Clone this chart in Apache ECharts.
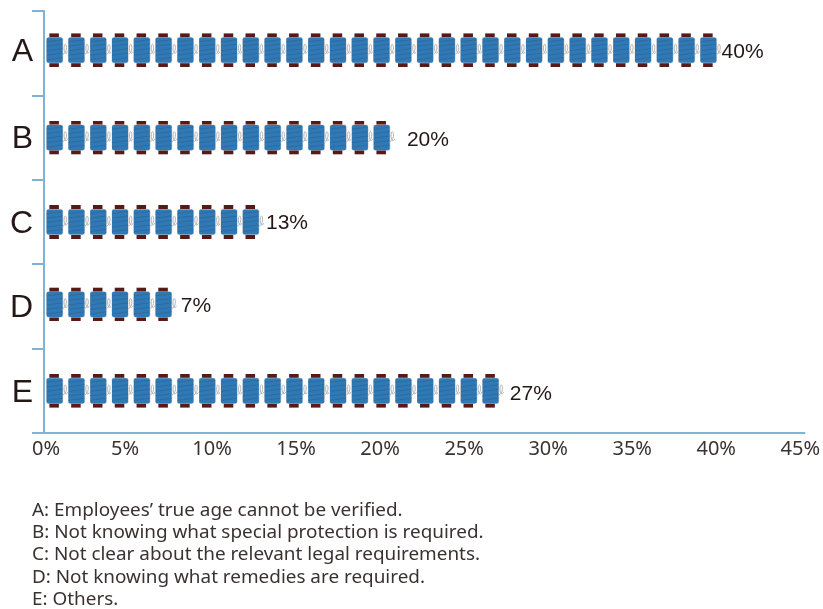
<!DOCTYPE html>
<html><head><meta charset="utf-8">
<style>html,body{margin:0;padding:0;background:#fff}#c{width:823px;height:609px}</style>
<script src="https://cdn.jsdelivr.net/npm/echarts@6/dist/echarts.min.js"></script>
</head><body><div id="c"></div>
<script>
const categories = ['A','B','C','D','E'];
const percentValues = [40,20,13,7,27];
const spoolCounts = [31,16,10,6,21];
const spoolExtents = [40.2,20.76,12.97,7.78,27.24];
const xTicks = [0,5,10,15,20,25,30,35,40,45];
const footnotes = [
  'A: Employees\u2019 true age cannot be verified.',
  'B: Not knowing what special protection is required.',
  'C: Not clear about the relevant legal requirements.',
  'D: Not knowing what remedies are required.',
  'E: Others.'
];
const rowNudgeY = [-3,0,0,-2,0];
const labelNudgeX = [-5,7,-3,-1,1];
const labelNudgeY = [-1,3,1,0,3];
const spoolSvg = `<svg xmlns="http://www.w3.org/2000/svg" width="88" height="136" viewBox="0 0 22 34">
<rect x="3.4" y="0" width="9.6" height="34" fill="#561a17"/>
<rect x="0" y="4" width="17.4" height="26" rx="2.4" fill="#d5d3d3"/>
<rect x="0.6" y="4.4" width="16.2" height="25.2" rx="2" fill="#2f7ab6"/>
<path d="M1 8.5 L16.5 6.5M1 13 L16.5 11M1 17.5 L16.5 15.5M1 22 L16.5 20M1 26.5 L16.5 24.5" stroke="#2f6898" stroke-width="0.8" fill="none"/>
<path d="M17.2 21 C21 20 21.5 12 19.5 11 C17.5 11 17.8 21 20.5 20 C21.2 19.8 21.6 19 22 18" stroke="#b5b3b3" stroke-width="1" fill="none"/>
</svg>`;
const spool = 'image://data:image/svg+xml;charset=utf-8,' + encodeURIComponent(spoolSvg);
const axisColor = '#7fb3d5';
const tickFont = {fontFamily:'Noto Sans',fontSize:20,color:'#3a3230'};
const catFont = {fontFamily:'Liberation Sans',fontSize:32,color:'#231815'};
const chart = echarts.init(document.getElementById('c'));
chart.setOption({
  animation:false,
  backgroundColor:'#fff',
  grid:{left:44,right:22,top:11,bottom:176},
  xAxis:{type:'value',min:0,max:45,interval:5,
    axisLine:{show:true,symbol:['none','rect'],symbolSize:[2,10],lineStyle:{color:axisColor,width:2}},
    axisTick:{show:false},splitLine:{show:false},
    axisLabel:{margin:6,
      formatter:v=>v===0?'{a|0%}':v===5?'{b|5%}':'{c|'+v+'%}',
      rich:{
        a:{...tickFont,padding:[0,0,0,4]},
        b:{...tickFont,padding:[0,6,0,0]},
        c:{...tickFont}
      }}},
  yAxis:{type:'category',data:categories,inverse:true,
    axisLine:{show:true,lineStyle:{color:axisColor,width:2}},
    axisTick:{show:true,length:12,lineStyle:{color:axisColor,width:2}},
    axisLabel:{margin:11,
      formatter:v=>v==='A'?'{u|A}':'{d|'+v+'}',
      rich:{u:{...catFont,padding:[0,0,2,0]},d:{...catFont,padding:[4,0,0,0]}}}},
  series:[{type:'pictorialBar',
    data:percentValues.map((v,i)=>({value:v,symbolRepeat:spoolCounts[i],symbolBoundingData:spoolExtents[i],
      symbolOffset:[2,rowNudgeY[i]],
      label:{offset:[labelNudgeX[i],labelNudgeY[i]]}})),
    symbol:spool,
    symbolSize:[21.82,34],symbolMargin:0,symbolPosition:'start',barWidth:34,
    label:{show:true,position:'right',formatter:'{c}%',fontFamily:'Liberation Sans',fontSize:21,color:'#231815',distance:5}}],
  graphic:footnotes.map((t,i)=>({type:'text',left:32,top:501+i*22.3,style:{text:t,fontFamily:'Noto Sans',fontSize:18.9,fill:'#3a3230'}}))
});
</script></body></html>
